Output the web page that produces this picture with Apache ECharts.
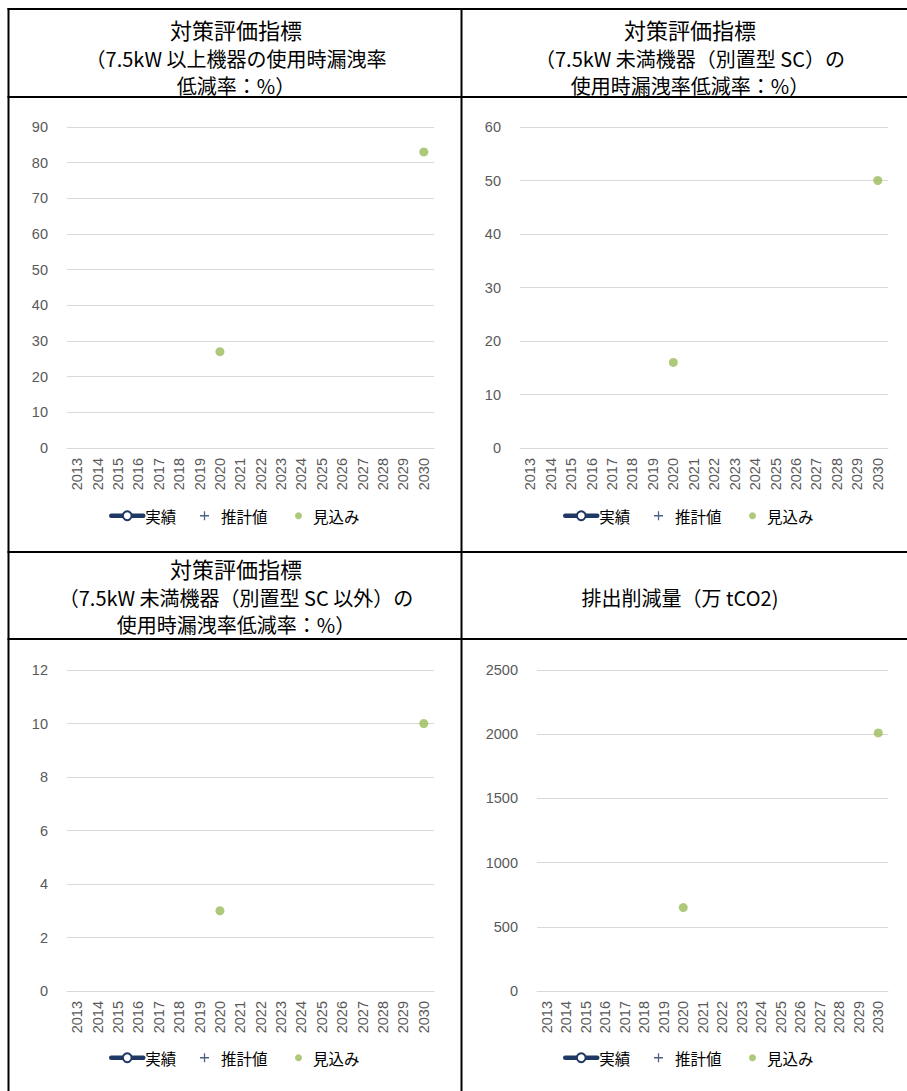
<!DOCTYPE html>
<html>
<head>
<meta charset="utf-8">
<script src="https://cdn.jsdelivr.net/npm/echarts@6/dist/echarts.min.js"></script>
<style>
html,body{margin:0;padding:0;background:#fff;}
#c{width:907px;height:1091px;}
</style>
</head>
<body>
<div id="c"></div>
<script>
// ---- data ----
const years = ['2013','2014','2015','2016','2017','2018','2019','2020','2021','2022','2023','2024','2025','2026','2027','2028','2029','2030'];
const seriesNames = ['実績','推計値','見込み'];
// 実績 (no values plotted)
const actual1 = [null,null,null,null,null,null,null,null,null,null,null,null,null,null,null,null,null,null];
const actual2 = [null,null,null,null,null,null,null,null,null,null,null,null,null,null,null,null,null,null];
const actual3 = [null,null,null,null,null,null,null,null,null,null,null,null,null,null,null,null,null,null];
const actual4 = [null,null,null,null,null,null,null,null,null,null,null,null,null,null,null,null,null,null];
// 推計値 (no values plotted)
const estimate1 = [null,null,null,null,null,null,null,null,null,null,null,null,null,null,null,null,null,null];
const estimate2 = [null,null,null,null,null,null,null,null,null,null,null,null,null,null,null,null,null,null];
const estimate3 = [null,null,null,null,null,null,null,null,null,null,null,null,null,null,null,null,null,null];
const estimate4 = [null,null,null,null,null,null,null,null,null,null,null,null,null,null,null,null,null,null];
// 見込み
const outlook1 = [null,null,null,null,null,null,null,27,null,null,null,null,null,null,null,null,null,83];
const outlook2 = [null,null,null,null,null,null,null,16,null,null,null,null,null,null,null,null,null,50];
const outlook3 = [null,null,null,null,null,null,null,3,null,null,null,null,null,null,null,null,null,10];
const outlook4 = [null,null,null,null,null,null,null,650,null,null,null,null,null,null,null,null,null,2010];
// y-axis scales
const yMax = [90, 60, 12, 2500];
const yInterval = [10, 10, 2, 500];
// header texts
const header1 = ['対策評価指標','（7.5kW 以上機器の使用時漏洩率','低減率：%）'];
const header2 = ['対策評価指標','（7.5kW 未満機器（別置型 SC）の','使用時漏洩率低減率：%）'];
const header3 = ['対策評価指標','（7.5kW 未満機器（別置型 SC 以外）の','使用時漏洩率低減率：%）'];
const header4 = ['排出削減量（万 tCO2)'];

const actual = [actual1, actual2, actual3, actual4];
const estimate = [estimate1, estimate2, estimate3, estimate4];
const outlook = [outlook1, outlook2, outlook3, outlook4];

// ---- styling / layout ----
const NAVY = '#1F3864';
const GREEN = '#9BBB59';
const FONT = '"Noto Sans CJK JP", "Noto Sans", sans-serif';
const LABEL_FONT = '"Liberation Sans", "DejaVu Sans", sans-serif';
const PLUS = 'path://M4.3,0H5.7V4.3H10V5.7H5.7V10H4.3V5.7H0V4.3H4.3Z';

const grids = [
  {left: 67, right: 473, top: 127, height: 321},
  {left: 520, right: 19, top: 127, height: 321},
  {left: 67, right: 473, top: 670, height: 321},
  {left: 537, right: 19, top: 670, height: 321}
];
const legendPos = [
  {x: 109, y: 516},
  {x: 563, y: 516},
  {x: 109, y: 1058},
  {x: 563, y: 1058}
];

const xAxes = [], yAxes = [], series = [], legends = [];
for (let i = 0; i < 4; i++) {
  xAxes.push({
    type: 'category', gridIndex: i, data: years, boundaryGap: true,
    axisLine: {show: true, lineStyle: {color: '#D9D9D9', width: 1}},
    axisTick: {show: false},
    axisLabel: {rotate: 90, interval: 0, color: '#595959', fontSize: 14.5, fontFamily: LABEL_FONT, margin: 10}
  });
  yAxes.push({
    type: 'value', gridIndex: i, min: 0, max: yMax[i], interval: yInterval[i],
    axisLine: {show: false}, axisTick: {show: false},
    splitLine: {lineStyle: {color: '#D9D9D9', width: 1}},
    axisLabel: {color: '#595959', fontSize: 14.5, fontFamily: LABEL_FONT, margin: 19,
      formatter: function (v) { return String(v); }}
  });
  series.push({
    name: seriesNames[0], type: 'line', xAxisIndex: i, yAxisIndex: i, data: actual[i],
    symbol: 'emptyCircle', symbolSize: 9, lineStyle: {width: 4, color: NAVY},
    itemStyle: {color: NAVY, borderColor: NAVY}
  });
  series.push({
    name: seriesNames[1], type: 'scatter', xAxisIndex: i, yAxisIndex: i, data: estimate[i],
    symbol: PLUS, symbolSize: 9, itemStyle: {color: NAVY}
  });
  series.push({
    name: seriesNames[2], type: 'scatter', xAxisIndex: i, yAxisIndex: i, data: outlook[i],
    symbol: 'circle', symbolSize: 9, itemStyle: {color: GREEN}
  });
  const lp = legendPos[i];
  const ts = {fontSize: 15.5, color: '#000', fontFamily: FONT};
  legends.push({data: [seriesNames[0]], left: lp.x, top: lp.y - 8, itemWidth: 32, itemHeight: 11, padding: 0,
    lineStyle: {width: 4.5, cap: 'round'}, textStyle: Object.assign({}, ts, {padding: [0, 0, 0, -3]})});
  legends.push({data: [seriesNames[1]], left: lp.x + 91, top: lp.y - 8, itemWidth: 9, itemHeight: 9, padding: 0, itemGap: 0,
    textStyle: Object.assign({}, ts, {padding: [0, 0, 0, 7]})});
  legends.push({data: [seriesNames[2]], left: lp.x + 186, top: lp.y - 8, itemWidth: 7, itemHeight: 7, padding: 0,
    textStyle: Object.assign({}, ts, {padding: [0, 0, 0, 6]})});
}

// table borders & header text
const graphic = [];
function hline(y, x1, x2) {
  graphic.push({type: 'line', shape: {x1: x1, y1: y, x2: x2, y2: y}, style: {stroke: '#000', lineWidth: 2}, z: 100});
}
function vline(x, y1, y2) {
  graphic.push({type: 'line', shape: {x1: x, y1: y1, x2: x, y2: y2}, style: {stroke: '#000', lineWidth: 2}, z: 100});
}
hline(9, 7.5, 907);
hline(97, 7.5, 907);
hline(552, 7.5, 907);
hline(639, 7.5, 907);
vline(8.5, 8, 1091);
vline(461.5, 8, 1091);

function headerText(lines, cx, ys) {
  lines.forEach(function (t, k) {
    graphic.push({
      type: 'text', x: cx, y: ys[k], z: 100,
      style: {text: t, fill: '#000', font: (k === 0 && lines.length > 1 ? '22px ' : '20px ') + FONT,
        align: 'center', verticalAlign: 'middle'}
    });
  });
}
headerText(header1, 236, [29, 58, 85]);
headerText(header2, 690, [29, 58, 85]);
headerText(header3, 236, [568, 597, 624]);
headerText(header4, 680, [597]);

const chart = echarts.init(document.getElementById('c'), null, {renderer: 'svg'});
chart.setOption({
  animation: false,
  backgroundColor: '#fff',
  grid: grids,
  xAxis: xAxes,
  yAxis: yAxes,
  legend: legends,
  series: series,
  graphic: graphic
});
</script>
</body>
</html>
